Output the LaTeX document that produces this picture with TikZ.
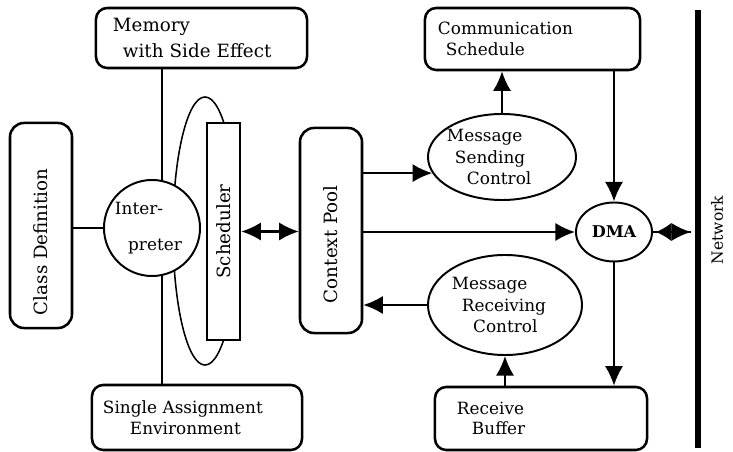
\documentclass[tikz,border=0pt]{standalone}
\usepackage{fontspec}
\setmainfont{DejaVu Serif}
\usepackage{tikz}
\usetikzlibrary{arrows.meta,shapes.geometric}
\newcommand{\fsz}[2]{\fontsize{#1}{#2}\selectfont}
\tikzset{
  box/.style={draw,line width=1.8pt,rounded corners=8pt,align=left,
    inner ysep=0pt,font=\fsz{12}{15}},
  tallbox/.style={draw,line width=1.8pt,rounded corners=10pt,fill=white,
    minimum width=1.55cm,minimum height=5.125cm,inner sep=0pt,font=\fsz{13}{15}},
  proc/.style={draw,ellipse,line width=1.4pt,fill=white,align=left,
    inner sep=0pt,font=\fsz{12}{15.6}},
  arrow/.style={-{Latex[length=14pt,width=13pt]},line width=1.5pt},
  twoway/.style={{Latex[length=14pt,width=13pt]}-{Latex[length=14pt,width=13pt]},line width=1.5pt},
  link/.style={line width=1.5pt}
}

\begin{document}
\begin{tikzpicture}[x=0.025cm,y=-0.025cm]
  \useasboundingbox (0,0) rectangle (733,452);

  \node[box, minimum width=5.275cm, minimum height=1.5cm, text width=4.425cm, inner xsep=0.425cm,
    font=\fsz{13}{19}] (mem) at (201.5,38) {Memory\\\hspace*{0.25cm}with Side Effect};
  \node[box, minimum height=1.625cm, text width=4.7cm, inner xsep=0.275cm]
    (sae) at (197,417.5) {Single Assignment\\\hspace*{0.675cm}Environment};
  \node[tallbox] (cls) at (41,225.5) {\rotatebox{90}{\makebox[4.475cm][l]{Class Definition}}};

  \node[draw, ellipse, line width=1.1pt, minimum width=1.6cm, minimum height=6.7cm, inner sep=0pt]
    (ring) at (205,231) {};
  \node[proc, circle, minimum size=2.4cm, text width=1.85cm, font=\fsz{12}{26}]
    (interp) at (152,228) {Inter-\\\hspace*{0.33cm}preter};
  \node[draw, line width=1.8pt, fill=white, minimum width=0.825cm, minimum height=5.425cm,
    inner sep=0pt, font=\fsz{13}{15}] (sched) at (223.5,231.5) {\rotatebox{90}{Scheduler}};
  \node[tallbox] (ctx) at (331,230.5) {\rotatebox{90}{\makebox[3.625cm][l]{Context Pool}}};

  \node[box, minimum height=1.55cm, text width=4.725cm, inner xsep=0.325cm, font=\fsz{12}{14.5}]
    (comm) at (532.5,39) {Communication\\\hspace*{0.2cm}Schedule};
  \node[proc, minimum width=3.7cm, minimum height=2.15cm, text width=2.1cm]
    (msc) at (502,157) {\hspace*{-0.325cm}Message\\\hspace*{-0.125cm}Sending\\\hspace*{0.175cm}Control};
  \node[draw, ellipse, line width=1.4pt, minimum width=1.9cm, minimum height=1.475cm, inner sep=0pt,
    font=\fsz{11.5}{13}\bfseries] (dma) at (614,232) {DMA};
  \node[proc, minimum width=3.85cm, minimum height=2.5cm, text width=2.275cm]
    (mrc) at (505,305) {\hspace*{-0.19cm}Message\\\hspace*{0.06cm}Receiving\\\hspace*{0.34cm}Control};
  \node[box, minimum height=1.575cm, text width=4.2cm, inner xsep=0.55cm, font=\fsz{12}{14.5}]
    (rbuf) at (541,418.5) {Receive\\\hspace*{0.375cm}Buffer};

  \coordinate (nettop) at (698,10);
  \coordinate (netbot) at (698,448);
  \coordinate (netport) at (691,232);
  \draw[line width=4.3pt] (nettop) -- (netbot);
  \node[font=\fsz{11}{12}, rotate=90] (netlbl) at (717,230) {Network};

  \draw[link] (interp.78) -- (interp.78 |- mem.south);
  \draw[link] (interp.-78) -- (interp.-78 |- sae.north);
  \draw[link] (interp.west) -- (interp.west -| cls.east);
  \draw[twoway] (sched.east) -- (sched.east -| ctx.west);
  \draw[arrow] (ctx.east |- msc.193) -- (msc.193);
  \draw[arrow] (ctx.east |- dma.west) -- (dma.west);
  \draw[arrow] (mrc.west) -- (mrc.west -| ctx.east);
  \draw[arrow] (msc.north) -- (msc.north |- comm.south);
  \draw[arrow] (dma.north |- comm.south) -- (dma.north);
  \draw[arrow] (dma.south) -- (dma.south |- rbuf.north);
  \draw[arrow] (mrc.south |- rbuf.north) -- (mrc.south);
  \draw[-{Latex[length=14pt,width=13pt]}, line width=1.4pt] (dma.east) -- (netport);
  \draw[-{Latex[length=11pt,width=13pt]}, line width=1.4pt, shorten >=2pt] (netport) -- (dma.east);
\end{tikzpicture}
\end{document}
